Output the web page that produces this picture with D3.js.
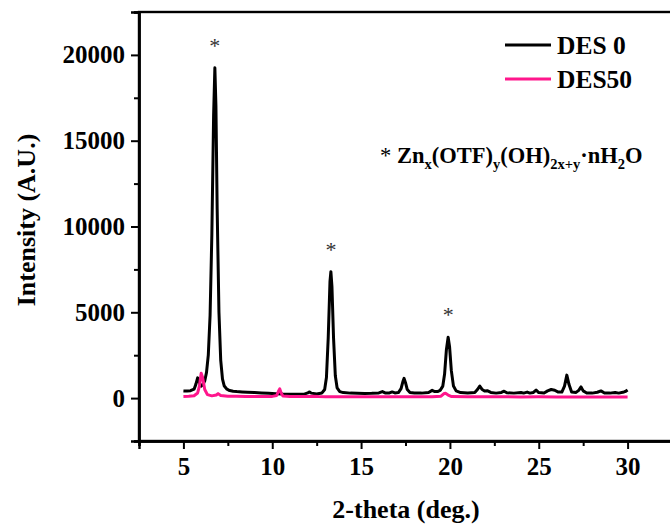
<!DOCTYPE html>
<html>
<head>
<meta charset="utf-8">
<script src="https://cdn.jsdelivr.net/npm/d3@7"></script>
<style>
  html, body { margin: 0; padding: 0; background: #fff; }
  svg { display: block; }
  text { font-family: "Liberation Serif", "Times New Roman", serif; font-weight: bold; fill: #000; }
</style>
</head>
<body>
<svg id="chart" width="670" height="526"></svg>
<script>
// XRD patterns: [2-theta (deg.), intensity (A.U.)]
const des0 = [
  [5.0, 420], [5.2, 410], [5.4, 430], [5.6, 520], [5.7, 800], [5.8, 1180], [5.9, 900],
  [6.0, 700], [6.1, 780], [6.2, 1000], [6.3, 1500], [6.4, 2500], [6.5, 4800], [6.6, 9500],
  [6.7, 16500], [6.77, 19250], [6.83, 17000], [6.9, 11000], [7.0, 5000], [7.1, 2200],
  [7.2, 1100], [7.3, 700], [7.45, 520], [7.6, 440], [7.8, 400], [8.0, 380], [8.3, 360],
  [8.6, 340], [9.0, 320], [9.4, 300], [9.8, 280], [10.2, 260], [10.6, 240], [11.0, 230],
  [11.4, 220], [11.8, 230], [12.0, 300], [12.1, 360], [12.2, 290], [12.5, 240], [12.8, 300],
  [12.95, 500], [13.05, 1200], [13.15, 3500], [13.25, 6800], [13.3, 7370], [13.36, 6500],
  [13.45, 3500], [13.55, 1300], [13.65, 600], [13.8, 380], [14.0, 320], [14.4, 290],
  [14.8, 280], [15.2, 270], [15.6, 280], [16.0, 300], [16.2, 380], [16.35, 300], [16.6, 300],
  [16.75, 360], [16.9, 300], [17.1, 320], [17.25, 550], [17.35, 950], [17.42, 1150],
  [17.5, 900], [17.6, 500], [17.75, 330], [18.0, 300], [18.4, 290], [18.8, 330], [19.0, 450],
  [19.15, 380], [19.3, 380], [19.45, 450], [19.6, 700], [19.7, 1400], [19.8, 2800],
  [19.9, 3550], [19.98, 3000], [20.08, 1600], [20.2, 700], [20.35, 420], [20.6, 320],
  [21.0, 300], [21.4, 330], [21.55, 500], [21.68, 700], [21.8, 520], [21.95, 420],
  [22.1, 430], [22.3, 330], [22.6, 290], [22.9, 330], [23.05, 400], [23.2, 310], [23.6, 290],
  [24.0, 330], [24.15, 290], [24.35, 350], [24.5, 290], [24.7, 330], [24.85, 470],
  [25.0, 320], [25.3, 300], [25.5, 420], [25.7, 500], [25.9, 460], [26.1, 350], [26.3, 350],
  [26.45, 700], [26.58, 1340], [26.7, 800], [26.85, 360], [27.1, 330], [27.25, 450],
  [27.38, 650], [27.5, 420], [27.7, 300], [28.0, 290], [28.3, 340], [28.5, 420], [28.7, 300],
  [29.0, 290], [29.3, 330], [29.5, 290], [29.8, 360], [29.9, 400], [30.0, 470]
];

const des50 = [
  [5.0, 100], [5.3, 110], [5.6, 140], [5.8, 300], [5.9, 700], [6.0, 1450], [6.08, 1200],
  [6.2, 500], [6.35, 200], [6.6, 130], [6.85, 180], [6.95, 260], [7.1, 150], [7.5, 110],
  [8.0, 110], [8.5, 100], [9.0, 100], [9.5, 95], [10.0, 100], [10.25, 150], [10.35, 400],
  [10.42, 540], [10.5, 300], [10.6, 120], [11.0, 90], [11.5, 90], [12.0, 100], [12.3, 110],
  [12.6, 90], [13.0, 85], [13.5, 80], [14.0, 80], [15.0, 80], [16.0, 75], [17.0, 80],
  [18.0, 75], [19.0, 80], [19.5, 110], [19.65, 250], [19.75, 280], [19.9, 180], [20.1, 90],
  [21.0, 80], [22.0, 75], [23.0, 75], [24.0, 70], [25.0, 75], [26.0, 70], [27.0, 70],
  [28.0, 70], [29.0, 70], [30.0, 70]
];

const seriesNames = ["DES 0", "DES50"];
const seriesColors = ["#000000", "#ff168c"];

// Peaks marked with an asterisk
const markedPeaks = [[6.77, 19250], [13.3, 7370], [19.9, 3550]];

const xTicks = [5, 10, 15, 20, 25, 30];
const xMinorTicks = [2.5, 7.5, 12.5, 17.5, 22.5, 27.5];
const yTicks = [0, 5000, 10000, 15000, 20000];
const yMinorTicks = [-2500, 2500, 7500, 12500, 17500, 22500];

const xLabel = "2-theta (deg.)";
const yLabel = "Intensity (A.U.)";

const svg = d3.select("#chart");
const plotLeft = 139, plotTop = 12, plotRight = 672, plotBottom = 441;

const x = d3.scaleLinear().domain([2.5, 32.5]).range([plotLeft, plotRight]);
const y = d3.scaleLinear().domain([-2500, 22500]).range([plotBottom, plotTop]);

// Frame
svg.append("rect")
  .attr("x", x(2.5)).attr("y", y(22500))
  .attr("width", x(32.5) - x(2.5)).attr("height", y(-2500) - y(22500))
  .attr("fill", "none").attr("stroke", "#000").attr("stroke-width", 2.4);

// Axes
svg.append("g").attr("transform", `translate(0,${plotBottom})`)
  .call(d3.axisBottom(x).tickValues(xTicks).tickSize(8).tickPadding(8).tickFormat(d3.format("d")));
svg.append("g").attr("transform", `translate(0,${plotBottom})`)
  .call(d3.axisBottom(x).tickValues(xMinorTicks).tickSize(5).tickFormat(""));
svg.append("g").attr("transform", `translate(${x(2.5)},0)`)
  .call(d3.axisLeft(y).tickValues(yTicks).tickSize(8).tickPadding(6).tickFormat(d3.format("d")));
svg.append("g").attr("transform", `translate(${x(2.5)},0)`)
  .call(d3.axisLeft(y).tickValues(yMinorTicks).tickSize(5).tickFormat(""));

svg.selectAll(".domain").attr("stroke-width", 2.4);
svg.selectAll(".tick line").attr("stroke-width", 2);
svg.selectAll(".tick text")
  .style("font-family", "'Liberation Serif', 'Times New Roman', serif")
  .style("font-weight", "bold").style("font-size", "25px").attr("fill", "#000");

// Patterns (DES50 drawn last so its peak near 6 deg sits over DES 0)
const line = d3.line().x(d => x(d[0])).y(d => y(d[1]));
[des0, des50].forEach((data, i) => {
  svg.append("path").datum(data)
    .attr("d", line)
    .attr("fill", "none")
    .attr("stroke", seriesColors[i])
    .attr("stroke-width", 3)
    .attr("stroke-linejoin", "round");
});

// Asterisks above peaks
svg.selectAll(".star").data(markedPeaks).enter().append("text")
  .attr("class", "star")
  .attr("x", d => x(d[0]))
  .attr("y", d => y(d[1]) - 15)
  .attr("text-anchor", "middle")
  .style("font-weight", "normal").style("font-size", "22px").style("fill", "#333")
  .text("*");

// Legend
const legend = svg.append("g");
seriesNames.forEach((name, i) => {
  const ly = 45 + i * 34;
  legend.append("line").attr("x1", 505).attr("x2", 551).attr("y1", ly).attr("y2", ly)
    .attr("stroke", seriesColors[i]).attr("stroke-width", 3);
  legend.append("text").attr("x", 557).attr("y", ly + 9)
    .style("font-size", "25.5px").text(name);
});

// Phase annotation
const ann = svg.append("text").attr("x", 380).attr("y", 163).style("font-size", "22.5px");
const sub = (t) => ann.append("tspan").attr("dy", 6).style("font-size", "14.5px").text(t);
const main = (t) => ann.append("tspan").attr("dy", -6).text(t);
ann.append("tspan").style("font-weight", "normal").text("* ");
ann.append("tspan").text("Zn");
sub("x"); main("(OTF)"); sub("y"); main("(OH)"); sub("2x+y"); main("·nH"); sub("2"); main("O");

// Axis titles
svg.append("text").attr("x", 406).attr("y", 518).attr("text-anchor", "middle")
  .style("font-size", "26px").text(xLabel);
svg.append("text").attr("transform", "translate(35,220) rotate(-90)").attr("text-anchor", "middle")
  .style("font-size", "26px").text(yLabel);
</script>
</body>
</html>
